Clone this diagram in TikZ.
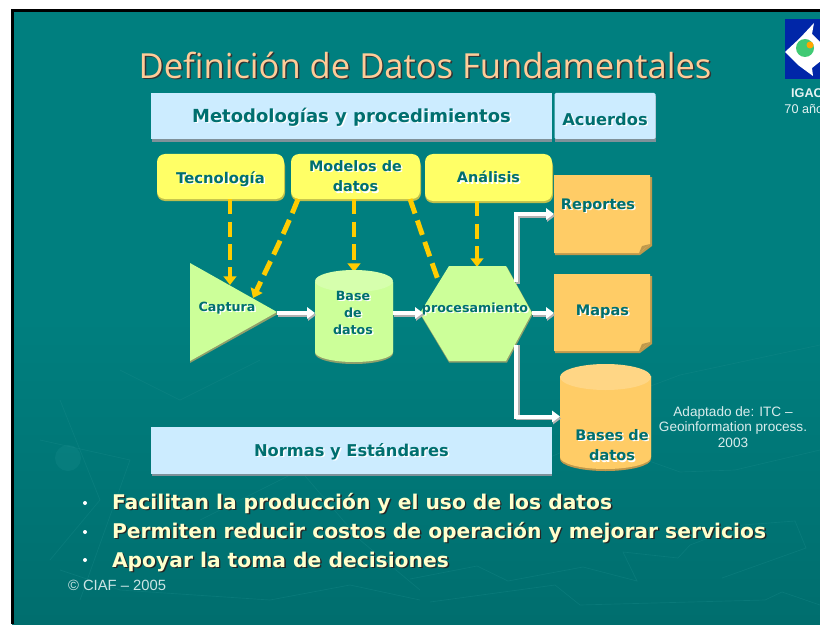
\documentclass[tikz,border=0pt]{standalone}
\usepackage{fontspec}
\setmainfont{DejaVu Sans}
\newfontfamily\titlefont{Open Sans}
\newfontfamily\smallfont{Liberation Sans}
\usetikzlibrary{arrows.meta,calc}
\definecolor{teala}{HTML}{007F7F}
\definecolor{tealb}{HTML}{006E6E}
\definecolor{tealc}{HTML}{1A8C8C}
\definecolor{txt}{HTML}{006F6F}
\definecolor{skyb}{HTML}{CCECFF}
\definecolor{skys}{HTML}{7F9199}
\definecolor{yell}{HTML}{FFFF66}
\definecolor{yells}{HTML}{BFBF4C}
\definecolor{lime}{HTML}{CCFF99}
\definecolor{limetop}{HTML}{D6FFAD}
\definecolor{limes}{HTML}{8F9F6B}
\definecolor{oran}{HTML}{FFCC66}
\definecolor{orantop}{HTML}{FFD685}
\definecolor{orans}{HTML}{BF994C}
\definecolor{dash}{HTML}{FFCC00}
\definecolor{peach}{HTML}{FFCC99}
\definecolor{cream}{HTML}{FFFFCC}
% text with a drop shadow; the line box is smashed so that the node centre is the optical centre
\newcommand\shtext[3]{\leavevmode\raisebox{-.35em}[0pt][0pt]{\rlap{\raisebox{-1.1pt}{\kern1.1pt\textcolor{#1}{#3}}}\textcolor{#2}{#3}}}
\newcommand\fsz[1]{\fontsize{#1}{#1}\selectfont}
\tikzset{
  every node/.style={inner sep=0pt,outer sep=0pt},
  lbl/.style={font=\bfseries\fsz{10.9},text=txt,align=center},
  dashline/.style={draw=dash,line width=3.7pt,dash pattern=on 11.5pt off 5.5pt,-{Triangle[length=6.5pt,width=9.5pt]}},
  flow/.style={draw=white,line width=3pt,-{Triangle[length=6pt,width=8.5pt]}},
  flowsh/.style={draw=gray!60,line width=2.6pt,-{Triangle[length=6pt,width=8.5pt]}},
  deco/.style={draw=tealc,line width=.5pt,opacity=.35},
}
\begin{document}
\begin{tikzpicture}[x=.75pt,y=-.75pt]
\useasboundingbox (0,0) rectangle (820,624);
\fill[white] (0,0) rectangle (820,624);
\shade[top color=teala,bottom color=tealb,middle color=teala] (12,10) rectangle (820,624);
\draw[black,line width=2.2pt] (12.5,624) -- (12.5,10.5) -- (820,10.5);
% faint background pattern
\draw[deco] (410,579)--(477,566)--(508,581)--(583,567)--(637,581)--(623,552)--(678,558)--(690,545)--(743,525)--(795,521)--(806,548)--(722,578);
\draw[deco] (430,602)--(555,585)--(580,605)--(765,600)--(782,592)--(820,605);
\draw[deco] (520,470)--(590,440)--(680,472)--(735,470)--(820,450);
\draw[deco] (560,420)--(680,375)--(820,345);
\draw[deco] (40,440)--(130,460)--(80,600);
\draw[deco] (120,370)--(180,400)--(260,360);
\draw[deco] (60,400)--(100,500)--(50,560);
\draw[deco] (200,520)--(300,470)--(360,540)--(420,590);
\draw[deco] (60,570)--(120,590)--(270,600)--(350,585)--(420,600);
\fill[tealc,opacity=.3] (68,458) circle (13);
% logo
\fill[blue!60!black!85!cyan] (785,19) rectangle (822,79);
\fill[white] (785,52) -- (800,38) -- (814,23) -- (812,34) -- (822,44) -- (822,60) -- (812,68) -- (813,76) -- (798,65) -- cycle;
\fill[green!45!teal!75!white] (805,48) circle (9);
\fill[orange!70!yellow] (810,45) circle (3.5);
\node[font=\smallfont\fsz{9.5},text=white!90!teal,align=center] (logotext) at (807,101) {\textbf{IGAC}\\[3pt]70 años};
% title
\node[font=\titlefont\fsz{25.9}] (title) at (425,66) {\shtext{black!80}{peach}{Definición de Datos Fundamentales}};
% top bars
\fill[skys] (152,96) rectangle (552,142);
\node[fill=skyb,minimum width=400.5*.75pt,minimum height=46*.75pt,lbl,font=\bfseries\fsz{13.5}] (metodo) at (351.5,116) {\shtext{white}{txt}{Metodologías y procedimientos}};
\fill[skys] (555,96) rectangle (656,142);
\node[fill=skyb,rounded corners=1pt,minimum width=101*.75pt,minimum height=46*.75pt,font=\bfseries\fsz{12.2}] (acuerdos) at (605,116) {\raisebox{-2.5pt}[0pt][0pt]{\shtext{white}{txt}{Acuerdos}}};
\fill[skys] (152,430) rectangle (552,476);
\node[fill=skyb,minimum width=400.5*.75pt,minimum height=47*.75pt,lbl,font=\bfseries\fsz{12.2}] (normas) at (351.5,450.5) {\shtext{white}{txt}{Normas y Estándares}};
% yellow boxes
\foreach \xa/\xb/\yb in {157/285/201,291/421/201,425/553/203}{
  \fill[yells,rounded corners=6pt] (\xa,158) rectangle (\xb,\yb);
}
\node[fill=yell,rounded corners=6pt,minimum width=127*.75pt,minimum height=45*.75pt,font=\bfseries\fsz{11.1}] (tecno) at (220.5,176.5) {\raisebox{-1.1pt}[0pt][0pt]{\shtext{white}{txt}{Tecnología}}};
\node[fill=yell,rounded corners=6pt,minimum width=129*.75pt,minimum height=45*.75pt,lbl,font=\bfseries\fsz{10.8}] (modelos) at (355.5,176.5) {\shtext{white}{txt}{Modelos de}\\[4.5pt]\shtext{white}{txt}{datos}};
\node[fill=yell,rounded corners=6pt,minimum width=127*.75pt,minimum height=47*.75pt,font=\bfseries\fsz{10.8}] (analisis) at (488.5,177.5) {\shtext{white}{txt}{Análisis}};
% connection points on the shapes drawn below
\coordinate (capR) at (277,313);
\coordinate (capT) at (230,285);
\coordinate (capS) at (253,298);
\coordinate (baseT) at (354,272);
\coordinate (baseL) at (315,313);
\coordinate (baseR) at (393,313);
\coordinate (procT) at (477,267);
\coordinate (procTL) at (446,302);
\coordinate (procL) at (423,313);
\coordinate (procR) at (532,313);
\coordinate (procUp) at (516,282);
\coordinate (procDn) at (516,345);
\coordinate (repL) at (554,214);
\coordinate (mapL) at (554,313);
\coordinate (basesL) at (560,416.5);
% dashed connectors pass under the shapes
\draw[dashline] (tecno.south -| capT) -- (capT);
\draw[dashline] ($(modelos.south west)+(7,0)$) .. controls (285,232) and (270,262) .. (capS);
\draw[dashline] (modelos.south -| baseT) -- (baseT);
\draw[dashline] ($(modelos.south east)+(-10,0)$) .. controls (418,222) and (430,258) .. (procTL);
\draw[dashline] (analisis.south -| procT) -- (procT);
% captura
\fill[limes] (190,363) -- (278,314) -- (190,264) -- cycle;
\fill[lime] (190,263) -- (277,312) -- (190,361) -- cycle;
\node[lbl,font=\bfseries\fsz{9.5}] (captura) at (227,307) {\shtext{white}{txt}{Captura}};
% base de datos
\fill[limes] (315,282) -- (315,353.5) arc[start angle=180,end angle=0,x radius=39,y radius=10.5] -- (393,282) -- cycle;
\fill[lime] (315,282) -- (315,352) arc[start angle=180,end angle=0,x radius=39,y radius=10] -- (393,282) -- cycle;
\fill[limetop] (354,281) ellipse[x radius=39,y radius=11];
\node[lbl,font=\bfseries\fsz{9.5}] (base) at (353,313) {\shtext{white}{txt}{Base}\\[3.2pt]\shtext{white}{txt}{de}\\[3.2pt]\shtext{white}{txt}{datos}};
% procesamiento
\fill[limes] (449,267) -- (507,267) -- (533,314) -- (507,362.5) -- (449,362.5) -- (420,314) -- cycle;
\fill[lime] (449,266) -- (506,266) -- (532,313) -- (506,361) -- (449,361) -- (420,313) -- cycle;
\node[lbl,font=\bfseries\fsz{9.5}] (proc) at (475,308) {\shtext{white}{txt}{procesamiento}};
% reportes
\fill[orans] (555,177) -- (652,177) -- (652,246) -- (640,255) -- (555,255) -- cycle;
\fill[oran] (554,175) -- (650,175) -- (650,244) -- (639,253) -- (554,253) -- cycle;
\fill[orans] (639,253) -- (642,246) -- (650,244) -- cycle;
\node[lbl] (reportes) at (598,204) {\shtext{white}{txt}{Reportes}};
% mapas
\fill[orans] (555,276) -- (652,276) -- (652,344) -- (640,353) -- (555,353) -- cycle;
\fill[oran] (554,274) -- (650,274) -- (650,342) -- (639,351) -- (554,351) -- cycle;
\fill[orans] (639,351) -- (642,344) -- (650,342) -- cycle;
\node[lbl] (mapas) at (602.5,310) {\shtext{white}{txt}{Mapas}};
% bases de datos
\fill[orans] (560,376) -- (560,459) arc[start angle=180,end angle=0,x radius=45.5,y radius=12] -- (651,376) -- cycle;
\fill[oran] (560,376) -- (560,457) arc[start angle=180,end angle=0,x radius=45.5,y radius=12] -- (651,376) -- cycle;
\fill[orantop] (605.5,377) ellipse[x radius=45.5,y radius=13];
\node[lbl] (bases) at (612,445.5) {\shtext{white}{txt}{Bases de}\\[4.5pt]\shtext{white}{txt}{datos}};
% flow connectors
\draw[flowsh] ($(capR)+(1,2)$) -- ($(baseL)+(1,2)$);
\draw[flow] (capR) -- (baseL);
\draw[flowsh] ($(baseR)+(1,2)$) -- ($(procL)+(1,2)$);
\draw[flow] (baseR) -- (procL);
\draw[flowsh] ($(procR)+(1,2)$) -- ($(mapL)+(1,2)$);
\draw[flow] (procR) -- (mapL);
\draw[flowsh] ($(procUp)+(2,2)$) |- ($(repL)+(1,2)$);
\draw[flow] (procUp) |- (repL);
\draw[flowsh] ($(procDn)+(2,0)$) |- ($(basesL)+(1,2)$);
\draw[flow] (procDn) |- (basesL);
% note
\node[font=\smallfont\fsz{10.2},text=white!85!teal,align=center] (nota) at (733,427) {Adaptado de: ITC –\\[1.5pt]Geoinformation process.\\[1.5pt]2003};
% bullets
\node[anchor=west,font=\bfseries\fsz{15.2}] (b1) at (112,502) {\shtext{black!85}{cream}{Facilitan la producción y el uso de los datos}};
\node[anchor=west,font=\bfseries\fsz{15.2}] (b2) at (112,531) {\shtext{black!85}{cream}{Permiten reducir costos de operación y mejorar servicios}};
\node[anchor=west,font=\bfseries\fsz{15.2}] (b3) at (112,560) {\shtext{black!85}{cream}{Apoyar la toma de decisiones}};
\fill[white] (85,503) circle (2) (85,532) circle (2) (85,560) circle (2);
\node[anchor=west,font=\smallfont\fsz{11.1},text=white!80!teal] (ciaf) at (68,585) {© CIAF – 2005};
\end{tikzpicture}
\end{document}
